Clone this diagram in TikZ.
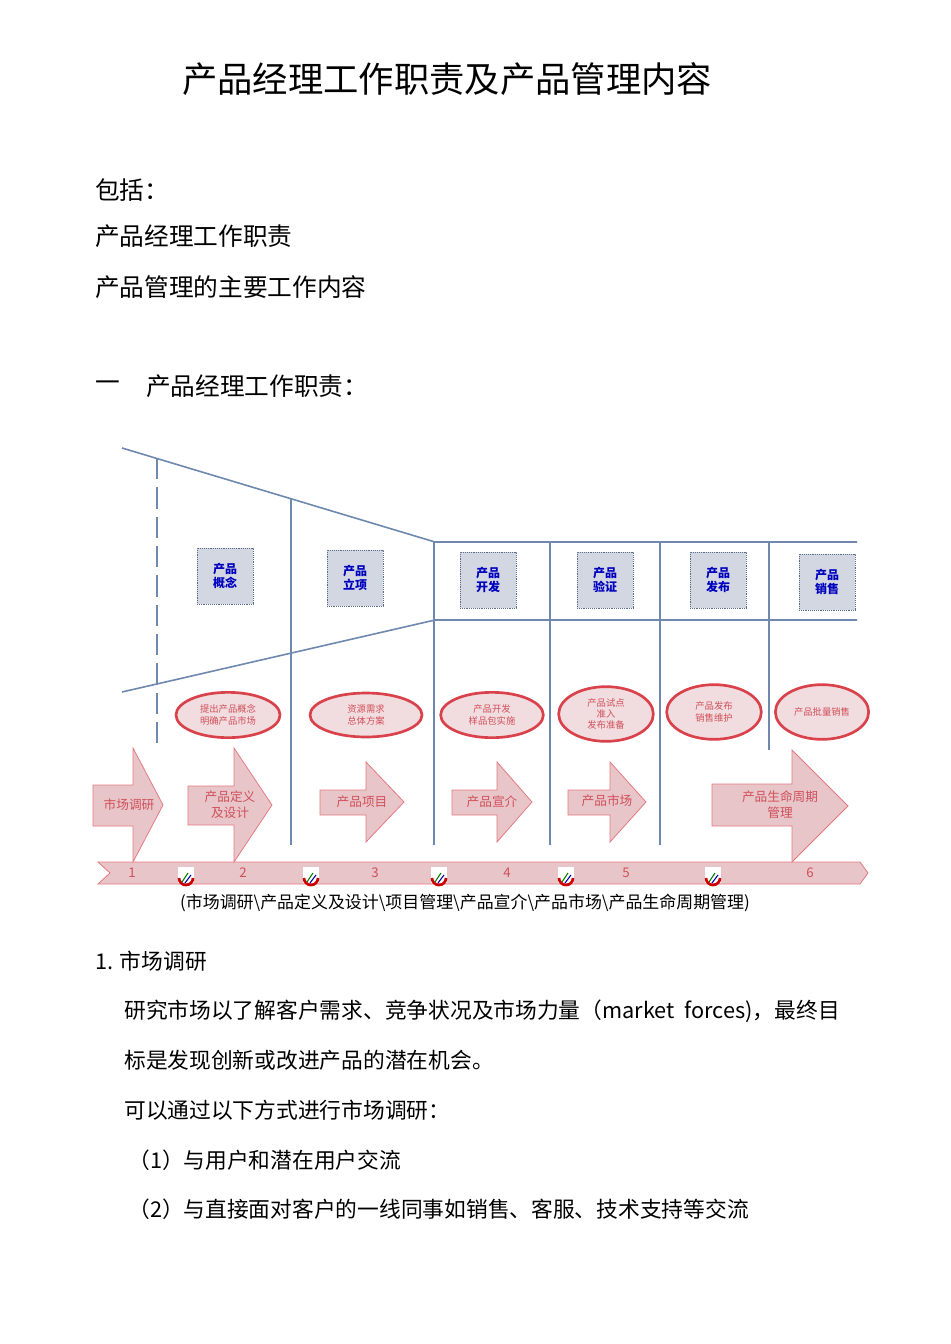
\documentclass[tikz,border=0pt]{standalone}
\usepackage{fontspec}
\setmainfont{Noto Sans CJK SC}
\newfontfamily\cjk{Noto Sans CJK SC}
\usetikzlibrary{shapes.geometric}
\definecolor{lineblue}{HTML}{6F88AD}
\definecolor{boxfill}{HTML}{D3D7E2}
\definecolor{pinkfill}{HTML}{E8C5C9}
\definecolor{redline}{HTML}{D9414B}
\definecolor{textred}{HTML}{D0505A}
\tikzset{
 body/.style={anchor=west,inner sep=0pt,font=\fontsize{18.5}{20}\selectfont},
 para/.style={anchor=west,inner sep=0pt,font=\fontsize{16.3}{18}\selectfont},
 stagebox/.style={draw=lineblue!80!black,densely dotted,fill=boxfill,minimum width=42pt,minimum height=42pt,inner sep=1pt,align=center,text=blue!75!black,font=\fontsize{9}{11}\selectfont\bfseries},
 goal/.style={ellipse,draw=redline,line width=2pt,fill=pinkfill!60,inner sep=0pt,align=center,text=textred,font=\fontsize{7}{8.5}\selectfont},
 arr/.style={draw=redline!70,fill=pinkfill,line width=0.6pt},
 arrtext/.style={text=textred,align=center,font=\fontsize{9.5}{12}\selectfont},
 vline/.style={draw=lineblue,line width=1.8pt},
 fline/.style={draw=lineblue,line width=1.2pt},
 num/.style={text=textred,font=\fontsize{10}{10}\selectfont\rmfamily},
}
\begin{document}
\begin{tikzpicture}[x=0.75pt,y=-0.75pt]
\useasboundingbox (0,0) rectangle (950,1344);
\node (title) at (447,79) {\fontsize{26.5}{30}\selectfont 产品经理工作职责及产品管理内容};
\node[body] (l1) at (95,190) {包括：};
\node[body] (l2) at (95,236) {产品经理工作职责};
\node[body] (l3) at (95,287) {产品管理的主要工作内容};
\node[body] (l4a) at (95,386) {一};
\node[body] (l4) at (146,386) {产品经理工作职责：};
% funnel
\coordinate (t0) at (122,448); \coordinate (t1) at (435,542); \coordinate (t2) at (857,542);
\coordinate (b0) at (122,692); \coordinate (b1) at (435,620); \coordinate (b2) at (857,620);
\draw[fline] (t0) -- (t1) -- (t2);
\draw[fline] (b0) -- (b1) -- (b2);
\coordinate (d0) at (157,458); \coordinate (d1) at (157,750);
\draw[vline,dash pattern=on 16pt off 6pt] (d0) -- (d1);
\foreach \x/\ya/\yb [count=\i] in {291/498/845,434/542/845,550/542/845,660/542/845,769/542/750}{
 \coordinate (va\i) at (\x,\ya); \coordinate (vb\i) at (\x,\yb);
 \draw[vline] (va\i) -- (vb\i);}
% stage boxes
\node[stagebox] (s1) at (225,576) {产品\\概念};
\node[stagebox] (s2) at (355,578) {产品\\立项};
\node[stagebox] (s3) at (488,580) {产品\\开发};
\node[stagebox] (s4) at (605,580) {产品\\验证};
\node[stagebox] (s5) at (718,580) {产品\\发布};
\node[stagebox] (s6) at (827,582) {产品\\销售};
% goals
\node[goal,minimum width=78pt,minimum height=34pt] (g1) at (228,715) {提出产品概念\\明确产品市场};
\node[goal,minimum width=84pt,minimum height=33pt] (g2) at (366,715) {资源需求\\总体方案};
\node[goal,minimum width=77pt,minimum height=34pt] (g3) at (492,715) {产品开发\\样品包实施};
\node[goal,minimum width=71pt,minimum height=41pt] (g4) at (606,714) {产品试点\\准入\\发布准备};
\node[goal,minimum width=71pt,minimum height=41pt] (g5) at (714,712) {产品发布\\销售维护};
\node[goal,minimum width=70pt,minimum height=41pt] (g6) at (822,712) {产品批量销售};
% ribbon
\draw[arr] (98,862) -- (860,862) -- (868,873) -- (860,884) -- (98,884) -- (110,873) -- cycle;
% arrows
\draw[arr] (93,785) -- (133,785) -- (133,748) -- (163,805) -- (133,862) -- (133,826) -- (93,826) -- cycle;
\draw[arr] (188,786) -- (234,786) -- (234,748) -- (272,805) -- (234,862) -- (234,825) -- (188,825) -- cycle;
\draw[arr] (320,790) -- (366,790) -- (366,762) -- (404,802) -- (366,842) -- (366,815) -- (320,815) -- cycle;
\draw[arr] (452,790) -- (497,790) -- (497,762) -- (532,802) -- (497,842) -- (497,815) -- (452,815) -- cycle;
\draw[arr] (568,790) -- (610,790) -- (610,762) -- (646,802) -- (610,842) -- (610,815) -- (568,815) -- cycle;
\draw[arr] (712,784) -- (792,784) -- (792,750) -- (848,806) -- (792,862) -- (792,826) -- (712,826) -- cycle;
\node[arrtext] (a1) at (129,805) {市场调研};
\node[arrtext] (a2) at (230,805) {产品定义\\及设计};
\node[arrtext] (a3) at (362,802) {产品项目};
\node[arrtext] (a4) at (492,802) {产品宣介};
\node[arrtext] (a5) at (607,801) {产品市场};
\node[arrtext] (a6) at (780,805) {产品生命周期\\管理};
\foreach \x/\n [count=\i] in {132/1,243/2,375/3,507/4,626/5,810/6}{\node[num] (n\i) at (\x,873) {\n};}
\foreach \x [count=\i] in {186,311,439,566,713}{
 \fill[white] (\x-8,867) rectangle (\x+8,883);
 \draw[red!80!black,line width=2pt] (\x-7,878) arc (180:0:7);
 \draw[green!50!black,line width=0.8pt] (\x-4,882) -- (\x+2,873);
 \draw[blue!70!black,line width=0.8pt] (\x-1,883) -- (\x+5,875);
}
\node (cap) at (465,903) {\fontsize{12.7}{14}\selectfont (市场调研\textbackslash 产品定义及设计\textbackslash 项目管理\textbackslash 产品宣介\textbackslash 产品市场\textbackslash 产品生命周期管理)};
\node[para] (p0) at (95,961) {1. 市场调研};
\node[para] (p1) at (124,1011) {研究市场以了解客户需求、竞争状况及市场力量（market\ \ forces)，最终目};
\node[para] (p2) at (124,1060) {标是发现创新或改进产品的潜在机会。};
\node[para] (p3) at (124,1110) {可以通过以下方式进行市场调研：};
\node[para] (p4) at (128,1160) {（1）与用户和潜在用户交流};
\node[para] (p5) at (128,1209) {（2）与直接面对客户的一线同事如销售、客服、技术支持等交流};
\end{tikzpicture}
\end{document}
